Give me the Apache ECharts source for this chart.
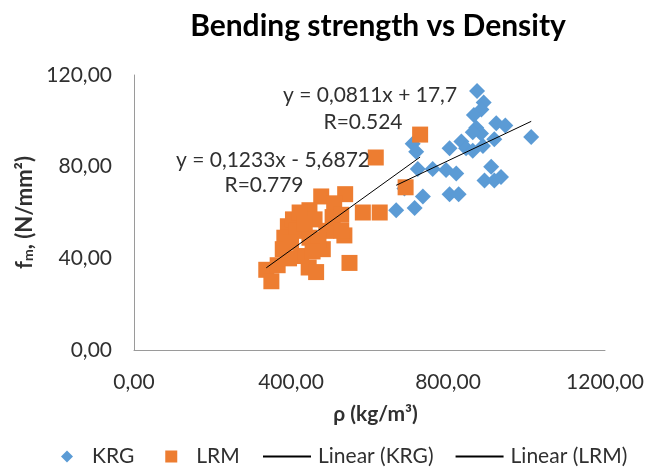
<!DOCTYPE html>
<html>
<head>
<meta charset="utf-8">
<script src="https://cdn.jsdelivr.net/npm/echarts@6/dist/echarts.min.js"></script>
<style>
html,body{margin:0;padding:0;background:#fff;}
#chart{width:656px;height:470px;}
</style>
</head>
<body>
<div id="chart"></div>
<script>
// Density (kg/m3), bending strength (N/mm2)
const krgPoints = [
  [874,113],[891,108],[885,105],[866,102.5],[872,97],[884,94.5],[863,95],
  [923,99],[946,98],[918,92],[1012,93],[804,88],[834,91],[846,88],[863,87],
  [889,89],[710,90],[719,86.5],[723,79],[761,79],[795,78.5],[821,77],
  [689,70.5],[736,67],[668,61],[715,62],[804,68],[827,68],[910,80],[893,74],
  [918,74],[935,75.5]
];
const lrmPoints = [
  [729,94],[616,84],[692,71],[583,60],[626,60],[536,50],[549,38],[477,67],
  [538,68],[510,64],[447,61],[392,54],[405,57],[383,49],[379,44],[481,44],
  [445,36],[464,34],[337,35],[350,30],[366,37],[426,41],[413,52],[447,49],
  [490,52],[506,58],[460,57],[422,60],[528,59],[528,52],[400,47],[470,48],
  [435,55],[395,40],[455,43]
];
// trendline coefficients [slope, intercept] as printed on the chart
const krgTrend = [0.0811, 17.7];
const lrmTrend = [0.1233, -5.6872];
const krgLabel = ['y = 0,0811x + 17,7', 'R=0.524'];
const lrmLabel = ['y = 0,1233x - 5,6872', 'R=0.779'];
const seriesNames = ['KRG', 'LRM', 'Linear (KRG)', 'Linear (LRM)'];
const titleText = 'Bending strength vs Density';
const xName = 'ρ (kg/m³)';

function trendLine(points, coef) {
  const xs = points.map(p => p[0]);
  const x0 = Math.min.apply(null, xs), x1 = Math.max.apply(null, xs);
  return [[x0, coef[0] * x0 + coef[1]], [x1, coef[0] * x1 + coef[1]]];
}

const FONT = 'Lato';
const TXT = '#303030';
const chart = echarts.init(document.getElementById('chart'), null, {renderer: 'canvas'});
const fmt = v => v.toFixed(2).replace('.', ',');

chart.setOption({
  animation: false,
  backgroundColor: '#ffffff',
  textStyle: {fontFamily: FONT},
  title: {
    text: titleText,
    left: 373, top: 6, textAlign: 'center',
    textStyle: {fontFamily: FONT, fontWeight: 'bold', fontSize: 30, color: '#000'}
  },
  grid: {left: 134, top: 75, width: 471, height: 275},
  xAxis: {
    type: 'value', min: 0, max: 1200, interval: 400,
    name: xName, nameLocation: 'middle', nameGap: 54,
    nameTextStyle: {fontFamily: FONT, fontWeight: 'bold', fontSize: 21, color: TXT, padding: [0, 0, 0, 12]},
    axisLine: {show: true, lineStyle: {color: '#9a9a9a', width: 1}},
    axisTick: {show: false},
    splitLine: {show: false},
    axisLabel: {formatter: fmt, fontFamily: FONT, fontSize: 21, color: TXT, margin: 22}
  },
  yAxis: {
    type: 'value', min: 0, max: 120, interval: 40,
    name: '{b|f}{s|m}{b|, (N/mm²)}', nameLocation: 'middle', nameGap: 88, nameRotate: 90,
    nameTextStyle: {
      rich: {
        b: {fontFamily: FONT, fontWeight: 'bold', fontSize: 22, color: TXT},
        s: {fontFamily: FONT, fontWeight: 'bold', fontSize: 14, color: TXT, verticalAlign: 'bottom', padding: [8, 0, 0, 0]}
      }
    },
    axisLine: {show: true, lineStyle: {color: '#9a9a9a', width: 1}},
    axisTick: {show: false},
    splitLine: {show: false},
    axisLabel: {formatter: fmt, fontFamily: FONT, fontSize: 21, color: TXT, margin: 22}
  },
  legend: [
    {
      data: [{name: seriesNames[0], icon: 'diamond'}, {name: seriesNames[1], icon: 'rect'}],
      left: 61, top: 446, padding: 0, itemWidth: 12, itemHeight: 12, itemGap: 31,
      textStyle: {fontFamily: FONT, fontSize: 21, color: TXT, padding: [0, 0, 0, 14]}
    },
    {
      data: [seriesNames[2], seriesNames[3]],
      left: 262, top: 446, padding: 0, itemWidth: 48, itemHeight: 14, itemGap: 21,
      itemStyle: {opacity: 0},
      textStyle: {fontFamily: FONT, fontSize: 21, color: TXT, padding: [0, 0, 0, 2]}
    }
  ],
  series: [
    {
      name: seriesNames[0], type: 'scatter', data: krgPoints,
      symbol: 'diamond', symbolSize: 16,
      itemStyle: {color: '#5B9BD5', opacity: 1}
    },
    {
      name: seriesNames[1], type: 'scatter', data: lrmPoints,
      symbol: 'rect', symbolSize: 16,
      itemStyle: {color: '#ED7D31', opacity: 1}
    },
    {
      name: seriesNames[2], type: 'line', data: trendLine(krgPoints, krgTrend),
      symbol: 'none', lineStyle: {color: '#000', width: 1}, itemStyle: {color: '#000', opacity: 0}, z: 5
    },
    {
      name: seriesNames[3], type: 'line', data: trendLine(lrmPoints, lrmTrend),
      symbol: 'none', lineStyle: {color: '#000', width: 1}, itemStyle: {color: '#000', opacity: 0}, z: 5
    }
  ],
  graphic: [
    {type: 'text', x: 370, y: 95, style: {text: krgLabel[0], fontFamily: FONT, fontSize: 21, fill: TXT, align: 'center', verticalAlign: 'middle'}, z: 10},
    {type: 'text', x: 363, y: 122, style: {text: krgLabel[1], fontFamily: FONT, fontSize: 21, fill: TXT, align: 'center', verticalAlign: 'middle'}, z: 10},
    {type: 'text', x: 273, y: 160, style: {text: lrmLabel[0], fontFamily: FONT, fontSize: 21, fill: TXT, align: 'center', verticalAlign: 'middle'}, z: 10},
    {type: 'text', x: 264, y: 185, style: {text: lrmLabel[1], fontFamily: FONT, fontSize: 21, fill: TXT, align: 'center', verticalAlign: 'middle'}, z: 10}
  ]
});
</script>
</body>
</html>
